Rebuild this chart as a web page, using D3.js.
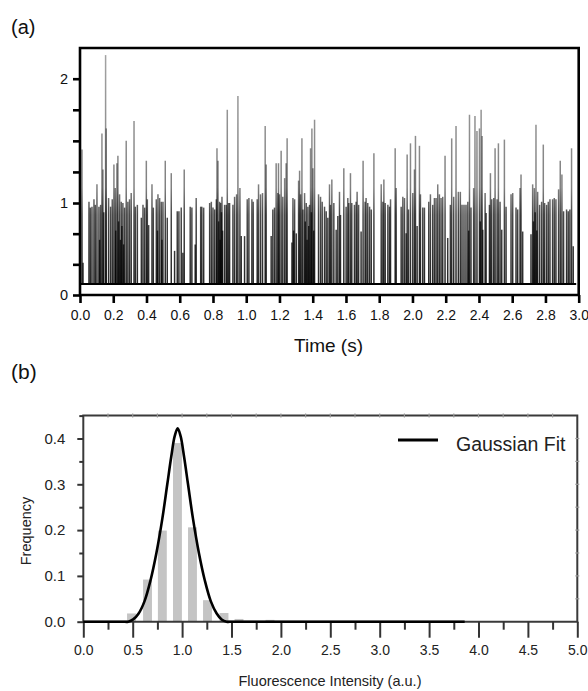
<!DOCTYPE html>
<html>
<head>
<meta charset="utf-8">
<script src="https://cdn.jsdelivr.net/npm/d3@7"></script>
<style>
  body { margin: 0; background: #fff; }
  svg { display: block; font-family: "Liberation Sans", Arial, sans-serif; }
</style>
</head>
<body>
<div id="chart"></div>
<script>
// ---- panel (a): intensity trace, spikes as [time (s), peak intensity] ----
const traceBase = 0.12;
const spikes = [
  [0.012,1.43],[0.018,0.35],[0.054,1.01],[0.062,0.95],[0.072,0.96],[0.084,1.03],[0.092,0.98],[0.102,1.15],
  [0.114,0.96],[0.118,0.6],[0.124,0.98],[0.132,1.56],[0.138,1.27],[0.143,0.9],[0.154,2.19],[0.158,1.6],
  [0.172,1.04],[0.184,0.96],[0.194,1.03],[0.204,1.31],[0.212,1.12],[0.215,0.7],[0.222,1.32],[0.228,1.38],
  [0.232,0.8],[0.238,1.07],[0.243,0.6],[0.248,1.01],[0.252,0.75],[0.258,1.0],[0.262,0.55],[0.268,0.95],
  [0.278,1.5],[0.288,1.01],[0.298,1.03],[0.308,1.08],[0.325,1.66],[0.333,0.96],[0.345,0.98],[0.369,0.84],
  [0.379,0.98],[0.389,0.95],[0.399,1.34],[0.405,1.03],[0.413,0.76],[0.433,1.15],[0.441,0.95],[0.459,1.03],
  [0.466,0.7],[0.469,1.07],[0.479,1.04],[0.489,1.01],[0.493,0.6],[0.499,1.01],[0.513,1.34],[0.525,0.84],
  [0.549,1.24],[0.569,0.48],[0.585,0.91],[0.595,0.91],[0.609,0.95],[0.619,0.46],[0.627,1.27],[0.663,0.96],
  [0.673,0.95],[0.693,0.55],[0.699,1.04],[0.726,0.96],[0.733,0.96],[0.744,0.95],[0.780,1.0],[0.790,1.01],
  [0.800,0.95],[0.810,0.93],[0.820,1.03],[0.824,1.44],[0.830,1.34],[0.834,0.8],[0.840,1.01],[0.843,0.6],
  [0.846,1.0],[0.851,0.9],[0.854,1.05],[0.858,0.7],[0.870,0.98],[0.880,0.98],[0.886,1.75],[0.894,1.0],
  [0.900,1.0],[0.920,0.98],[0.930,1.05],[0.942,1.07],[0.950,1.86],[0.962,1.12],[0.970,0.64],[0.990,0.64],
  [1.006,1.03],[1.016,1.04],[1.034,1.03],[1.042,1.01],[1.066,1.03],[1.074,1.15],[1.086,1.07],[1.098,1.08],
  [1.114,1.62],[1.120,1.31],[1.150,0.64],[1.160,0.93],[1.170,0.95],[1.180,1.32],[1.190,1.08],[1.194,1.32],
  [1.200,1.07],[1.210,1.42],[1.220,1.05],[1.231,1.2],[1.240,1.32],[1.246,1.52],[1.275,0.57],[1.281,1.04],
  [1.285,0.7],[1.291,1.03],[1.301,0.67],[1.315,1.18],[1.321,1.26],[1.327,1.07],[1.335,1.52],[1.341,0.93],
  [1.351,1.08],[1.355,0.8],[1.361,1.0],[1.366,0.6],[1.371,0.96],[1.376,0.75],[1.381,0.98],[1.387,1.44],
  [1.392,0.9],[1.395,1.6],[1.401,1.28],[1.406,0.7],[1.411,1.67],[1.435,1.07],[1.447,1.05],[1.457,1.01],
  [1.471,0.96],[1.481,0.91],[1.491,0.84],[1.501,1.15],[1.507,0.98],[1.515,1.19],[1.527,1.0],[1.541,0.71],
  [1.551,0.86],[1.561,1.09],[1.567,0.87],[1.587,1.28],[1.601,0.96],[1.611,1.04],[1.617,1.0],[1.627,1.24],
  [1.635,1.0],[1.651,0.98],[1.661,1.01],[1.667,1.09],[1.676,0.98],[1.691,0.69],[1.703,1.34],[1.715,1.01],
  [1.721,1.04],[1.731,1.0],[1.742,0.96],[1.752,0.93],[1.768,1.4],[1.812,1.15],[1.822,1.01],[1.828,1.19],
  [1.836,1.0],[1.852,0.98],[1.862,0.96],[1.868,1.03],[1.896,1.44],[1.902,1.12],[1.932,0.96],[1.942,1.05],
  [1.952,1.04],[1.962,0.67],[1.968,1.39],[1.976,0.93],[1.988,1.48],[2.002,1.08],[2.012,1.27],[2.018,1.54],
  [2.028,0.75],[2.042,1.46],[2.048,1.07],[2.062,0.95],[2.072,0.95],[2.098,1.01],[2.108,1.07],[2.122,0.98],
  [2.132,1.04],[2.142,1.04],[2.152,1.15],[2.162,1.07],[2.172,1.04],[2.182,1.05],[2.196,1.38],[2.212,0.62],
  [2.228,0.98],[2.236,1.52],[2.248,1.05],[2.262,1.62],[2.276,1.09],[2.288,1.09],[2.298,0.98],[2.310,0.98],
  [2.322,0.98],[2.333,1.01],[2.338,0.7],[2.343,1.71],[2.352,0.95],[2.368,1.12],[2.376,1.70],[2.388,1.58],
  [2.403,1.6],[2.408,0.8],[2.413,1.75],[2.419,1.54],[2.423,0.71],[2.437,1.08],[2.443,0.89],[2.463,0.98],
  [2.469,1.24],[2.477,1.03],[2.489,1.04],[2.497,1.44],[2.509,1.03],[2.517,1.48],[2.527,1.01],[2.537,0.71],
  [2.553,1.51],[2.563,0.96],[2.593,1.07],[2.603,1.08],[2.623,0.95],[2.633,0.93],[2.647,1.12],[2.653,1.23],
  [2.663,0.69],[2.713,0.66],[2.723,1.15],[2.728,0.8],[2.733,1.12],[2.738,0.9],[2.743,1.63],[2.748,0.7],
  [2.753,1.09],[2.765,0.98],[2.777,1.01],[2.787,1.47],[2.795,1.0],[2.807,0.98],[2.817,1.01],[2.827,1.03],
  [2.843,1.03],[2.853,1.04],[2.863,1.03],[2.879,1.11],[2.889,1.34],[2.899,1.23],[2.909,0.91],[2.927,0.93],
  [2.937,0.91],[2.947,0.93],[2.957,1.44],[2.967,0.53]
];
const timeTicks = d3.range(0, 3.001, 0.2);
const traceMajorTicks = [0, 1, 2];
const traceMinorTicks = [1/3, 2/3, 1.25, 1.5, 1.75];

// ---- panel (b): histogram + fit ----
const binCenters = [0.488, 0.65, 0.80, 0.953, 1.105, 1.257, 1.424, 1.576, 1.89];
const binFreq    = [0.018, 0.092, 0.199, 0.39, 0.206, 0.047, 0.019, 0.006, 0.004];
const fitX = [0, 0.3, 0.4, 0.455, 0.505, 0.56, 0.62, 0.68, 0.74, 0.80, 0.85, 0.89, 0.925, 0.955, 0.985, 1.02, 1.06, 1.11, 1.17, 1.23, 1.29, 1.35, 1.40, 1.45, 1.5, 1.6, 2.0, 3.0, 3.86];
const fitY = [0, 0, 0, 0, 0.005, 0.018, 0.045, 0.09, 0.15, 0.225, 0.30, 0.36, 0.405, 0.422, 0.405, 0.36, 0.30, 0.225, 0.15, 0.09, 0.045, 0.018, 0.005, 0, 0, 0, 0, 0, 0];
const intTicks = d3.range(0, 5.001, 0.5);
const freqTicks = [0, 0.1, 0.2, 0.3, 0.4];

const W = 588, H = 691;
const svg = d3.select("#chart").append("svg").attr("width", W).attr("height", H);

// =================== (a) ===================
const xa = d3.scaleLinear().domain([0, 3]).range([80, 578.7]);
const ya = d3.scaleLinear().domain([0, 1, 2]).range([295, 203, 78.7]);

// spikes look darker near the bottom where they pile up
const grad = svg.append("defs").append("linearGradient")
  .attr("id", "spikeShade").attr("gradientUnits", "userSpaceOnUse")
  .attr("x1", 0).attr("x2", 0).attr("y1", ya(traceBase)).attr("y2", ya(2.2));
[[0, 0.85], [0.3, 0.72], [0.42, 0.5], [1, 0.36]].forEach(s =>
  grad.append("stop").attr("offset", s[0]).attr("stop-color", "#000").attr("stop-opacity", s[1]));

const ga = svg.append("g");

ga.append("g")
  .selectAll("line")
  .data(spikes)
  .join("line")
  .attr("x1", d => xa(d[0])).attr("x2", d => xa(d[0]))
  .attr("y1", ya(traceBase)).attr("y2", d => ya(d[1]))
  .attr("stroke", "url(#spikeShade)")
  .attr("stroke-width", 1.5);

// baseline of the trace
ga.append("line")
  .attr("x1", xa(0.005)).attr("x2", xa(2.985))
  .attr("y1", ya(traceBase)).attr("y2", ya(traceBase))
  .attr("stroke", "#000").attr("stroke-width", 2);

// frame
ga.append("path")
  .attr("d", `M${xa(0)},${ya(0)} V48 H${xa(3)} V${ya(0)} Z`)
  .attr("fill", "none").attr("stroke", "#000").attr("stroke-width", 2.6);

// x axis
const axA = d3.axisBottom(xa).tickValues(timeTicks).tickSize(8).tickPadding(7)
  .tickFormat(d3.format(".1f"));
ga.append("g").attr("transform", `translate(0,${ya(0)})`).call(axA)
  .call(g => g.select(".domain").remove())
  .call(g => g.selectAll("line").attr("stroke", "#000").attr("stroke-width", 2.6))
  .call(g => g.selectAll("text").attr("font-size", 14).attr("fill", "#111")
    .attr("font-family", "Liberation Sans, Arial, sans-serif"));

// y axis
const ayA = d3.axisLeft(ya).tickValues(traceMajorTicks.concat(traceMinorTicks)).tickSize(7).tickPadding(5)
  .tickFormat(d => traceMajorTicks.includes(d) ? d : "");
ga.append("g").attr("transform", `translate(${xa(0)},0)`).call(ayA)
  .call(g => g.select(".domain").remove())
  .call(g => g.selectAll("line").attr("stroke", "#000").attr("stroke-width", 2.6))
  .call(g => g.selectAll("text").attr("font-size", 14.5).attr("fill", "#111")
    .attr("font-family", "Liberation Sans, Arial, sans-serif"));

svg.append("text").attr("x", 11).attr("y", 34).attr("font-size", 20).attr("fill", "#111").text("(a)");
svg.append("text").attr("x", 328.5).attr("y", 352).attr("text-anchor", "middle")
  .attr("font-size", 19).attr("fill", "#111").text("Time (s)");

// =================== (b) ===================
const xb = d3.scaleLinear().domain([0, 5]).range([83.3, 577.3]);
const yb = d3.scaleLinear().domain([0, 0.45]).range([621.7, 415.6]);
const gb = svg.append("g");

// bars
const barW = xb(0.09) - xb(0);
gb.append("g")
  .selectAll("rect")
  .data(binCenters.map((c, i) => ({ c, f: binFreq[i] })))
  .join("rect")
  .attr("x", d => xb(d.c) - barW / 2)
  .attr("y", d => yb(d.f))
  .attr("width", barW)
  .attr("height", d => yb(0) - yb(d.f))
  .attr("fill", "#c4c4c4");

// frame
gb.append("path")
  .attr("d", `M${xb(0)},${yb(0)} V${yb(0.45)} H${xb(5)} V${yb(0)} H${xb(0)}`)
  .attr("fill", "none").attr("stroke", "#3a3a3a").attr("stroke-width", 2);

// inner mirror ticks on top and right
gb.append("g").selectAll("line").data(d3.range(0.25, 5, 0.25)).join("line")
  .attr("x1", d => xb(d)).attr("x2", d => xb(d))
  .attr("y1", yb(0.45) - 2).attr("y2", yb(0.45) + 2)
  .attr("stroke", "#999").attr("stroke-width", 1.2);
gb.append("g").selectAll("line").data(d3.range(0.05, 0.45, 0.05)).join("line")
  .attr("x1", xb(5) - 2).attr("x2", xb(5) + 2)
  .attr("y1", d => yb(d)).attr("y2", d => yb(d))
  .attr("stroke", "#999").attr("stroke-width", 1.2);

// x axis: majors and minors
const axB = d3.axisBottom(xb).tickValues(intTicks).tickSize(16).tickPadding(7)
  .tickFormat(d3.format(".1f"));
gb.append("g").attr("transform", `translate(0,${yb(0)})`).call(axB)
  .call(g => g.select(".domain").remove())
  .call(g => g.selectAll("line").attr("stroke", "#333").attr("stroke-width", 2))
  .call(g => g.selectAll("text").attr("font-size", 14).attr("fill", "#222")
    .attr("font-family", "Liberation Sans, Arial, sans-serif"));
gb.append("g").attr("transform", `translate(0,${yb(0)})`)
  .call(d3.axisBottom(xb).tickValues(d3.range(0.25, 5, 0.5)).tickSize(8).tickFormat(""))
  .call(g => g.select(".domain").remove())
  .call(g => g.selectAll("line").attr("stroke", "#333").attr("stroke-width", 2));

// y axis
const ayB = d3.axisLeft(yb).tickValues(freqTicks).tickSize(6).tickPadding(12)
  .tickFormat(d3.format(".1f"));
gb.append("g").attr("transform", `translate(${xb(0)},0)`).call(ayB)
  .call(g => g.select(".domain").remove())
  .call(g => g.selectAll("line").attr("stroke", "#333").attr("stroke-width", 2))
  .call(g => g.selectAll("text").attr("font-size", 15).attr("fill", "#222")
    .attr("font-family", "Liberation Sans, Arial, sans-serif"));
gb.append("g").attr("transform", `translate(${xb(0)},0)`)
  .call(d3.axisLeft(yb).tickValues([0.05, 0.15, 0.25, 0.35, 0.45]).tickSize(4).tickFormat(""))
  .call(g => g.select(".domain").remove())
  .call(g => g.selectAll("line").attr("stroke", "#333").attr("stroke-width", 2));

// gaussian fit
const fitLine = d3.line().x(d => xb(d[0])).y(d => yb(d[1])).curve(d3.curveCatmullRom.alpha(0.5));
gb.append("path")
  .attr("d", fitLine(fitX.map((x, i) => [x, fitY[i]])))
  .attr("fill", "none").attr("stroke", "#000").attr("stroke-width", 2.6);

// legend
gb.append("line").attr("x1", 398).attr("x2", 438).attr("y1", 440).attr("y2", 440)
  .attr("stroke", "#000").attr("stroke-width", 3.2);
gb.append("text").attr("x", 456).attr("y", 450.5).attr("font-size", 19.5).attr("fill", "#222")
  .text("Gaussian Fit");

svg.append("text").attr("x", 11).attr("y", 379).attr("font-size", 21).attr("fill", "#111").text("(b)");
svg.append("text").attr("transform", "translate(31,531) rotate(-90)").attr("text-anchor", "middle")
  .attr("font-size", 14.5).attr("fill", "#222").text("Frequency");
svg.append("text").attr("x", 330).attr("y", 686).attr("text-anchor", "middle")
  .attr("font-size", 14.5).attr("fill", "#222").text("Fluorescence Intensity (a.u.)");
</script>
</body>
</html>
